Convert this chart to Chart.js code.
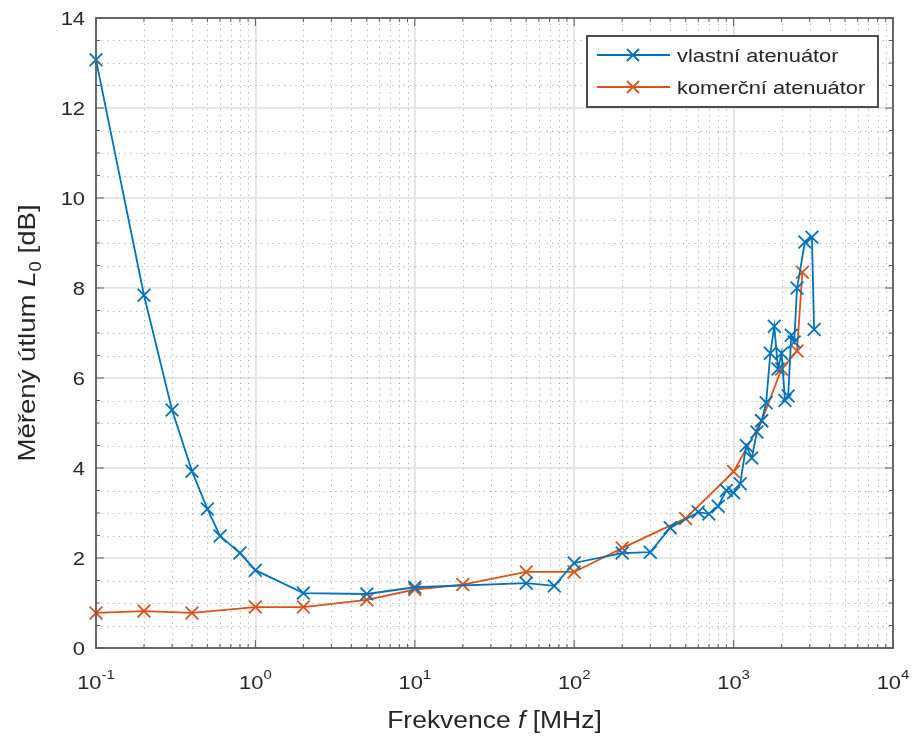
<!DOCTYPE html>
<html>
<head>
<meta charset="utf-8">
<script src="https://cdn.jsdelivr.net/npm/chart.js@4/dist/chart.umd.min.js"></script>
<style>
  html, body { margin: 0; padding: 0; background: #fff; }
  canvas { display: block; }
</style>
</head>
<body>
<canvas id="c" width="917" height="736"></canvas>
<script>
const vlastniFreq = [0.1, 0.2, 0.3, 0.4, 0.5, 0.6, 0.8, 1, 2, 5, 10, 50, 75, 100, 200, 300, 400, 600, 700, 800, 900, 1000, 1100,
  1200, 1300, 1400, 1500, 1600, 1700, 1800, 1900, 2000, 2100, 2200, 2300, 2400, 2500, 2800, 3100, 3200];
const vlastniUtlum = [13.07, 7.84, 5.29, 3.93, 3.09, 2.49, 2.11, 1.73, 1.22, 1.2, 1.35, 1.44, 1.38, 1.89, 2.11, 2.13, 2.67, 3.02, 2.98, 3.15, 3.5, 3.45, 3.65,
  4.5, 4.22, 4.8, 5.05, 5.45, 6.55, 7.15, 6.2, 6.55, 5.5, 5.6, 6.95, 6.8, 8.0, 9.02, 9.13, 7.08];

const komercniFreq = [0.1, 0.2, 0.4, 1, 2, 5, 10, 20, 50, 100, 200, 500, 1000, 1500, 2000, 2500, 2700];
const komercniUtlum = [0.78, 0.82, 0.78, 0.91, 0.91, 1.07, 1.3, 1.41, 1.69, 1.69, 2.22, 2.88, 3.92, 5.05, 6.2, 6.6, 8.35];

const seriesNames = ['vlastní atenuátor', 'komerční atenuátor'];
const xDecades = [0.1, 1, 10, 100, 1000, 10000];
const xDecadeExp = ['-1', '0', '1', '2', '3', '4'];
const yTicks = [0, 2, 4, 6, 8, 10, 12, 14];

const BLUE = '#0072BD';
const ORANGE = '#D95319';
const TEXT = '#262626';
const FONT = '"Liberation Sans", Arial, sans-serif';
const SX = 1.15; // text looks horizontally stretched in the original

// all x ticks: 1..9 in every decade
const xAll = [];
for (let d = 0; d < xDecades.length - 1; d++) {
  for (let m = 1; m < 10; m++) xAll.push(+(xDecades[d] * m).toPrecision(3));
}
xAll.push(10000);
const yAll = [];
for (let v = 0; v <= 14; v += 0.5) yAll.push(v);

function drawSegs(ctx, segs, x, y, align) {
  // segs: [{t, size, italic, dy}]
  ctx.save();
  ctx.textBaseline = 'alphabetic';
  ctx.textAlign = 'left';
  let w = 0;
  segs.forEach(s => {
    ctx.font = (s.italic ? 'italic ' : '') + s.size + 'px ' + FONT;
    s.w = ctx.measureText(s.t).width * SX;
    w += s.w;
  });
  let cx = align === 'center' ? x - w / 2 : align === 'right' ? x - w : x;
  segs.forEach(s => {
    ctx.font = (s.italic ? 'italic ' : '') + s.size + 'px ' + FONT;
    ctx.save();
    ctx.translate(cx, y + (s.dy || 0));
    ctx.scale(SX, 1);
    ctx.fillText(s.t, 0, 0);
    ctx.restore();
    cx += s.w;
  });
  ctx.restore();
}

const matlabLook = {
  id: 'matlabLook',
  beforeDatasetsDraw(chart) {
    const { ctx, chartArea: a, scales: { x, y } } = chart;
    ctx.save();
    ctx.strokeStyle = '#ababab';
    ctx.lineWidth = 1;
    ctx.setLineDash([1.2, 4.5]);
    xAll.forEach(v => {
      if (xDecades.includes(v)) return;
      const px = Math.round(x.getPixelForValue(v)) + 0.5;
      ctx.beginPath(); ctx.moveTo(px, a.top); ctx.lineTo(px, a.bottom); ctx.stroke();
    });
    yAll.forEach(v => {
      if (v % 2 === 0) return;
      const py = Math.round(y.getPixelForValue(v)) + 0.5;
      ctx.beginPath(); ctx.moveTo(a.left, py); ctx.lineTo(a.right, py); ctx.stroke();
    });
    ctx.restore();
  },
  afterDatasetsDraw(chart) {
    const { ctx, chartArea: a, scales: { x, y } } = chart;
    ctx.save();
    // axes box + ticks
    ctx.strokeStyle = '#5a5a5a';
    ctx.lineWidth = 1.8;
    ctx.strokeRect(a.left, a.top, a.right - a.left, a.bottom - a.top);
    ctx.lineWidth = 1;
    xAll.forEach(v => {
      const px = x.getPixelForValue(v);
      const len = xDecades.includes(v) ? 8 : 4;
      ctx.beginPath();
      ctx.moveTo(px, a.bottom); ctx.lineTo(px, a.bottom - len);
      ctx.moveTo(px, a.top); ctx.lineTo(px, a.top + len);
      ctx.stroke();
    });
    yAll.forEach(v => {
      const py = y.getPixelForValue(v);
      const len = v % 2 === 0 ? 8 : 4;
      ctx.beginPath();
      ctx.moveTo(a.left, py); ctx.lineTo(a.left + len, py);
      ctx.moveTo(a.right, py); ctx.lineTo(a.right - len, py);
      ctx.stroke();
    });

    // tick labels
    ctx.fillStyle = TEXT;
    xDecades.forEach((v, i) => {
      drawSegs(ctx, [
        { t: '10', size: 19 },
        { t: xDecadeExp[i], size: 13, dy: -10 }
      ], x.getPixelForValue(v), a.bottom + 41, 'center');
    });
    yTicks.forEach(v => {
      drawSegs(ctx, [{ t: String(v), size: 19 }], a.left - 11, y.getPixelForValue(v) + 7, 'right');
    });

    // axis titles
    drawSegs(ctx, [
      { t: 'Frekvence ', size: 23 },
      { t: 'f', size: 23, italic: true },
      { t: ' [MHz]', size: 23 }
    ], (a.left + a.right) / 2, 728, 'center');
    ctx.save();
    ctx.translate(35, (a.top + a.bottom) / 2);
    ctx.rotate(-Math.PI / 2);
    drawSegs(ctx, [
      { t: 'Měřený útlum ', size: 24 },
      { t: 'L', size: 24, italic: true },
      { t: '0', size: 16, dy: 6 },
      { t: ' [dB]', size: 24 }
    ], 0, 0, 'center');
    ctx.restore();

    // legend
    const lx = 587, ly = 36, lw = 291, lh = 71;
    ctx.fillStyle = '#fff';
    ctx.fillRect(lx, ly, lw, lh);
    ctx.strokeStyle = '#3a3a3a';
    ctx.lineWidth = 1.8;
    ctx.strokeRect(lx, ly, lw, lh);
    [BLUE, ORANGE].forEach((col, i) => {
      const ry = ly + 19 + i * 32;
      ctx.strokeStyle = col;
      ctx.lineWidth = 1.8;
      ctx.beginPath(); ctx.moveTo(597, ry); ctx.lineTo(670, ry); ctx.stroke();
      ctx.beginPath();
      ctx.moveTo(627, ry - 6); ctx.lineTo(639, ry + 6);
      ctx.moveTo(627, ry + 6); ctx.lineTo(639, ry - 6);
      ctx.stroke();
      ctx.fillStyle = TEXT;
      drawSegs(ctx, [{ t: seriesNames[i], size: 19 }], 677, ry + 7, 'left');
    });
    ctx.restore();
  }
};

const toPoints = (xs, ys) => xs.map((f, i) => ({ x: f, y: ys[i] }));

new Chart(document.getElementById('c'), {
  type: 'scatter',
  data: {
    datasets: [
      {
        label: seriesNames[0],
        data: toPoints(vlastniFreq, vlastniUtlum),
        showLine: true,
        borderColor: BLUE,
        backgroundColor: BLUE,
        borderWidth: 1.8,
        pointStyle: 'crossRot',
        pointRadius: 9,
        pointBorderWidth: 1.8,
        clip: false
      },
      {
        label: seriesNames[1],
        data: toPoints(komercniFreq, komercniUtlum),
        showLine: true,
        borderColor: ORANGE,
        backgroundColor: ORANGE,
        borderWidth: 1.8,
        pointStyle: 'crossRot',
        pointRadius: 9,
        pointBorderWidth: 1.8,
        clip: false
      }
    ]
  },
  options: {
    responsive: false,
    animation: false,
    events: [],
    layout: { padding: { left: 96, top: 18, right: 24, bottom: 88 } },
    plugins: { legend: { display: false }, tooltip: { enabled: false } },
    scales: {
      x: {
        type: 'logarithmic',
        min: 0.1,
        max: 10000,
        afterBuildTicks: s => { s.ticks = xAll.map(v => ({ value: v })); },
        afterFit: s => { s.height = 0; },
        ticks: { display: false },
        border: { display: false },
        grid: {
          drawTicks: false,
          lineWidth: 1.8,
          color: c => (xDecades.includes(c.tick && c.tick.value) ? '#e3e3e3' : 'rgba(0,0,0,0)')
        }
      },
      y: {
        type: 'linear',
        min: 0,
        max: 14,
        afterBuildTicks: s => { s.ticks = yAll.map(v => ({ value: v })); },
        afterFit: s => { s.width = 0; },
        ticks: { display: false },
        border: { display: false },
        grid: {
          drawTicks: false,
          lineWidth: 1.8,
          color: c => (c.tick && c.tick.value % 2 === 0 ? '#e3e3e3' : 'rgba(0,0,0,0)')
        }
      }
    }
  },
  plugins: [matlabLook]
});
</script>
</body>
</html>
